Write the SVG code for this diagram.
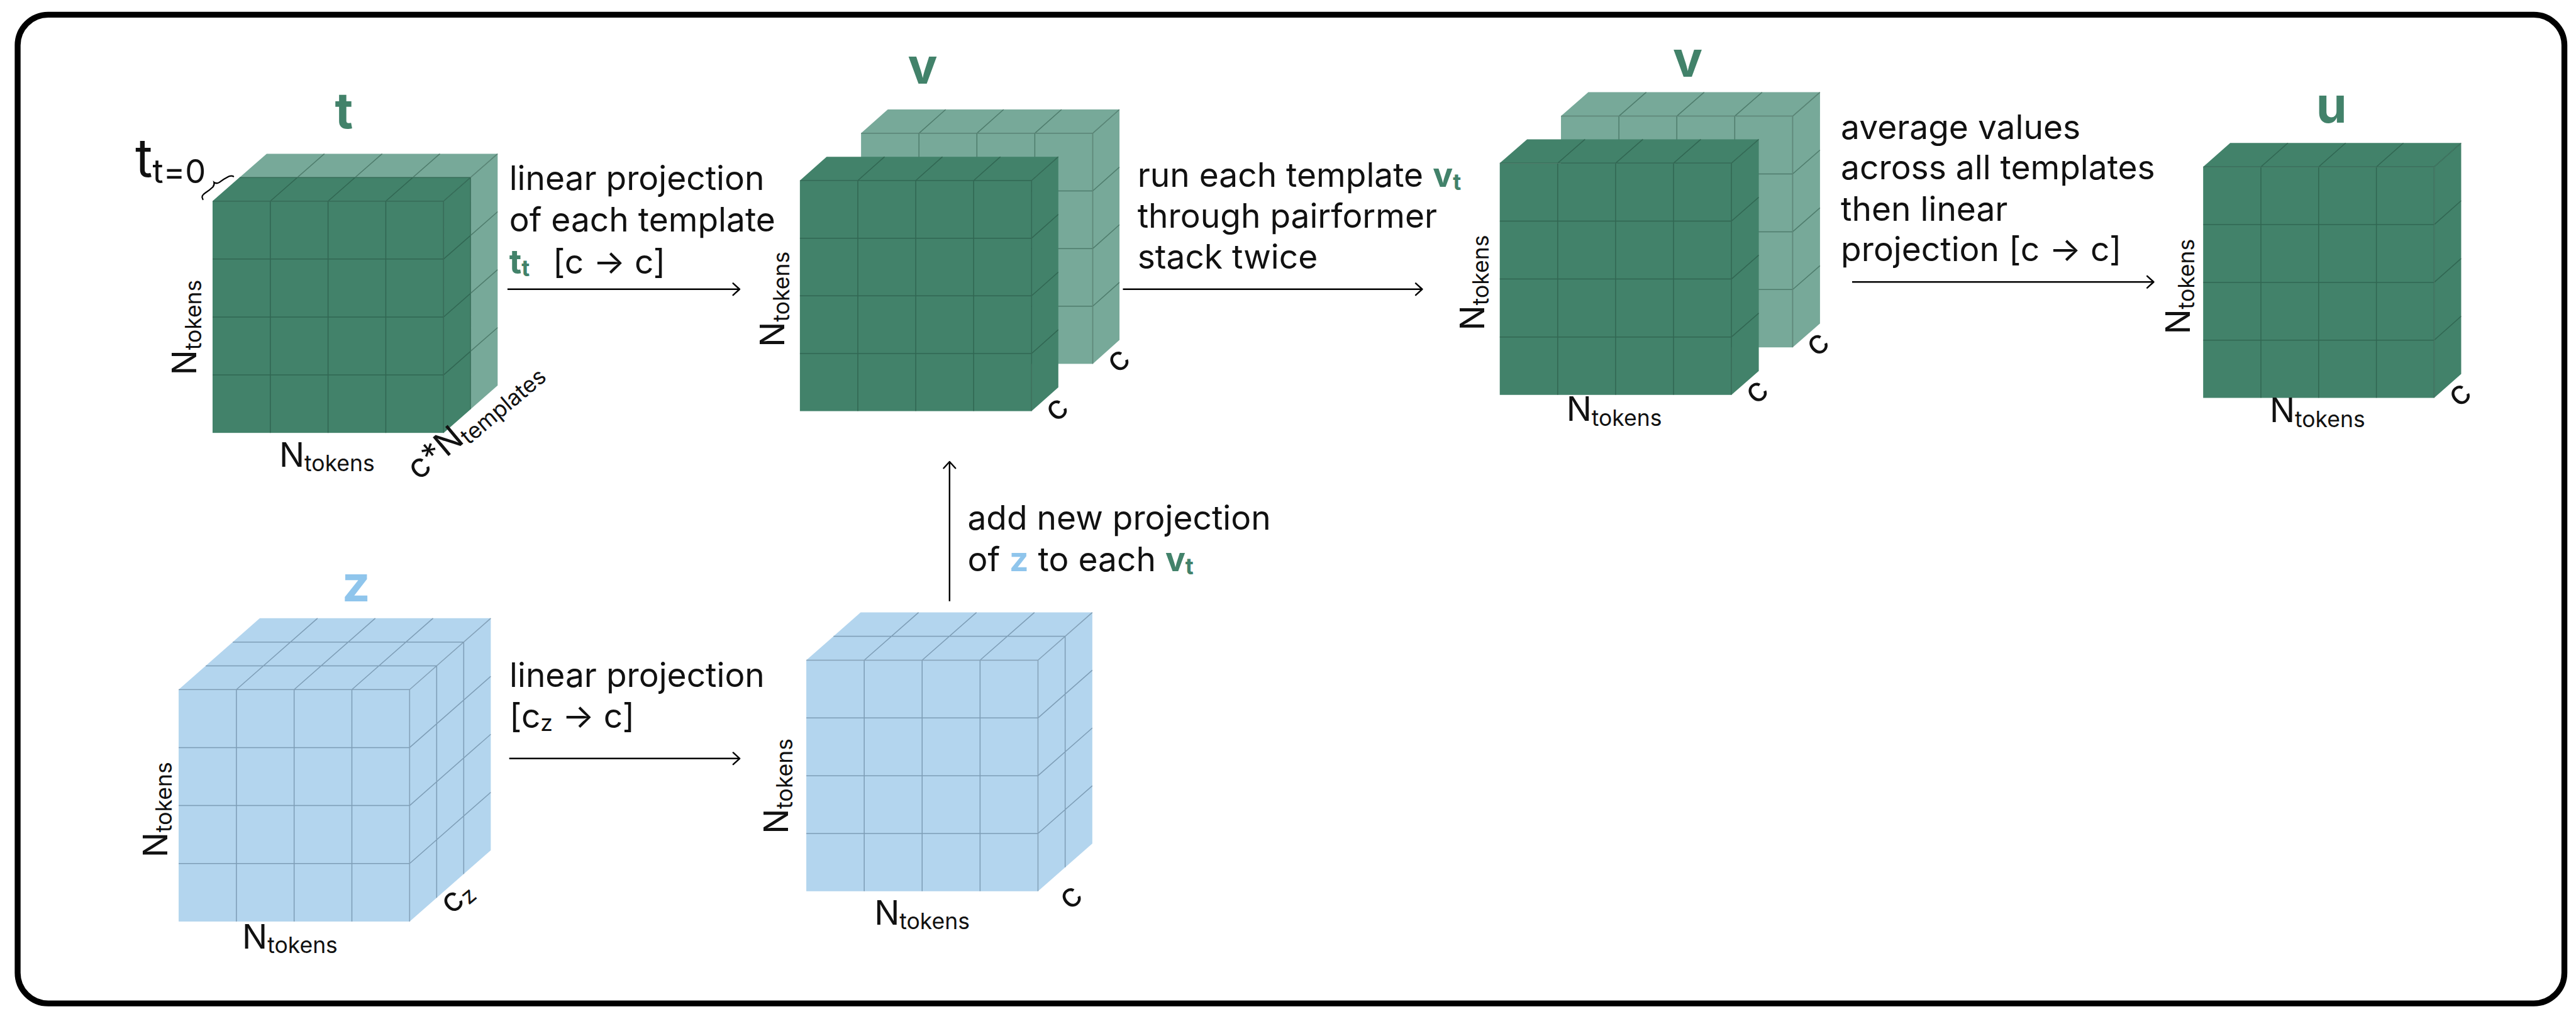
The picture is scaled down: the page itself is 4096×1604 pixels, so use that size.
<svg xmlns="http://www.w3.org/2000/svg" width="4096" height="1604" viewBox="0 0 4096 1604">
  <defs>
    <style>
      text { font-family: Inter, "Liberation Sans", sans-serif; font-size: 57px; fill: #111; }
      .sub { font-size: 38px; }
      .bold { font-weight: 700; }
      .name { font-weight: 700; font-size: 84px; }
      .green { fill: #42826a; }
      .blue { fill: #8fc5ec; }
      .dark { fill: #42826a; }
      .light { fill: #77a999; }
      .sky { fill: #b3d5ee; }
      .gridG { fill: none; stroke: #1d4536; stroke-opacity: 0.45; stroke-width: 1.6; }
      .gridB { fill: none; stroke: #3b5870; stroke-opacity: 0.45; stroke-width: 1.6; }
      .edge { fill: none; stroke: #000; stroke-width: 2.6; }
    </style>
    <marker id="head" markerUnits="userSpaceOnUse" viewBox="-14 -12 16 24" markerWidth="16" markerHeight="24" refX="0" refY="0" orient="auto">
      <path d="M-11,-10 L0,0 L-11,10" fill="none" stroke="#000" stroke-width="2.6" stroke-linecap="round" stroke-linejoin="round"/>
    </marker>
  </defs>

  <g transform="scale(0.935)">
    <!-- outer frame -->
    <rect x="30" y="25" width="4331" height="1681" rx="52" fill="#fff" stroke="#000" stroke-width="10"/>

    <!-- template stack t: one dark slice in front, remaining templates behind -->
    <g id="node-t">
      <polygon class="light" points="361.5,342 754.3,342 846.3,261.4 453.5,261.4"/>
      <polygon class="light" points="754.3,342 846.3,261.4 846.3,655.4 754.3,736"/>
      <rect class="dark" x="361.5" y="342" width="392.8" height="394"/>
      <polygon class="dark" points="361.5,342 754.3,342 800.3,301.7 407.5,301.7"/>
      <polygon class="dark" points="754.3,342 800.3,301.7 800.3,695.7 754.3,736"/>
      <path class="gridG" d="M459.7,342V736M557.9,342V736M656.1,342V736M754.3,342V736
        M361.5,342H754.3M361.5,440.5H754.3M361.5,539H754.3M361.5,637.5H754.3
        M459.7,342l92,-80.6M557.9,342l92,-80.6M656.1,342l92,-80.6M754.3,342l92,-80.6
        M407.5,301.7H800.3M800.3,301.7V695.7
        M754.3,440.5l92,-80.6M754.3,539l92,-80.6M754.3,637.5l92,-80.6"/>
      <text class="name green" x="585" y="218.6" text-anchor="middle">t</text>
      <text x="230" y="300" style="font-size:90px">t<tspan style="font-size:56px" dy="11">t=0</tspan></text>
      <path d="M345,339 q-4,-6 4,-11 q8,-5 13,-10 q3,-4 2,-8 q4,3 9,0 q8,-6 16,-10 q5,-2 8,0" fill="none" stroke="#000" stroke-width="2.4" stroke-linecap="round"/>
      <text transform="translate(334,638) rotate(-90)">N<tspan class="sub" dy="8">tokens</tspan></text>
      <text x="556" y="793.6" text-anchor="middle">N<tspan class="sub" dy="8">tokens</tspan></text>
      <text transform="translate(712,818) rotate(-40)">c*N<tspan class="sub" dy="8">templates</tspan></text>
    </g>

    <!-- v after projection: two stacked template cubes -->
    <g id="node-v1">
      <rect class="light" x="1464.3" y="226.6" width="394" height="392"/>
      <polygon class="light" points="1464.3,226.6 1858.3,226.6 1903.8,186.1 1509.8,186.1"/>
      <polygon class="light" points="1858.3,226.6 1903.8,186.1 1903.8,578.1 1858.3,618.6"/>
      <path class="gridG" d="M1562.8,226.6V618.6M1661.3,226.6V618.6M1759.8,226.6V618.6M1858.3,226.6V618.6
        M1464.3,226.6H1858.3M1464.3,324.6H1858.3M1464.3,422.6H1858.3M1464.3,520.6H1858.3
        M1562.8,226.6l45.5,-40.5M1661.3,226.6l45.5,-40.5M1759.8,226.6l45.5,-40.5M1858.3,226.6l45.5,-40.5
        M1858.3,324.6l45.5,-40.5M1858.3,422.6l45.5,-40.5M1858.3,520.6l45.5,-40.5"/>
      <rect class="dark" x="1360.3" y="307" width="394" height="392"/>
      <polygon class="dark" points="1360.3,307 1754.3,307 1799.8,266.5 1405.8,266.5"/>
      <polygon class="dark" points="1754.3,307 1799.8,266.5 1799.8,658.5 1754.3,699"/>
      <path class="gridG" d="M1458.8,307V699M1557.3,307V699M1655.8,307V699M1754.3,307V699
        M1360.3,307H1754.3M1360.3,405H1754.3M1360.3,503H1754.3M1360.3,601H1754.3
        M1458.8,307l45.5,-40.5M1557.3,307l45.5,-40.5M1655.8,307l45.5,-40.5M1754.3,307l45.5,-40.5
        M1754.3,405l45.5,-40.5M1754.3,503l45.5,-40.5M1754.3,601l45.5,-40.5"/>
      <text class="name green" x="1569" y="142" text-anchor="middle">v</text>
      <text transform="translate(1334,590) rotate(-90)">N<tspan class="sub" dy="8">tokens</tspan></text>
      <text transform="translate(1799,698) rotate(-41)" text-anchor="middle" dy="14">c</text>
      <text transform="translate(1904,615) rotate(-41)" text-anchor="middle" dy="14">c</text>
    </g>

    <!-- v after the pairformer stack -->
    <g id="node-v2">
      <rect class="light" x="2654.6" y="197.4" width="394" height="393.2"/>
      <polygon class="light" points="2654.6,197.4 3048.6,197.4 3095.1,156.8 2701.1,156.8"/>
      <polygon class="light" points="3048.6,197.4 3095.1,156.8 3095.1,550 3048.6,590.6"/>
      <path class="gridG" d="M2753.1,197.4V590.6M2851.6,197.4V590.6M2950.1,197.4V590.6M3048.6,197.4V590.6
        M2654.6,197.4H3048.6M2654.6,295.7H3048.6M2654.6,394H3048.6M2654.6,492.3H3048.6
        M2753.1,197.4l46.5,-40.6M2851.6,197.4l46.5,-40.6M2950.1,197.4l46.5,-40.6M3048.6,197.4l46.5,-40.6
        M3048.6,295.7l46.5,-40.6M3048.6,394l46.5,-40.6M3048.6,492.3l46.5,-40.6"/>
      <rect class="dark" x="2550.5" y="277.4" width="394" height="394"/>
      <polygon class="dark" points="2550.5,277.4 2944.5,277.4 2991,236.8 2597,236.8"/>
      <polygon class="dark" points="2944.5,277.4 2991,236.8 2991,630.8 2944.5,671.4"/>
      <path class="gridG" d="M2649,277.4V671.4M2747.5,277.4V671.4M2846,277.4V671.4M2944.5,277.4V671.4
        M2550.5,277.4H2944.5M2550.5,375.9H2944.5M2550.5,474.4H2944.5M2550.5,572.9H2944.5
        M2649,277.4l46.5,-40.6M2747.5,277.4l46.5,-40.6M2846,277.4l46.5,-40.6M2944.5,277.4l46.5,-40.6
        M2944.5,375.9l46.5,-40.6M2944.5,474.4l46.5,-40.6M2944.5,572.9l46.5,-40.6"/>
      <text class="name green" x="2870" y="131" text-anchor="middle">v</text>
      <text transform="translate(2524,562) rotate(-90)">N<tspan class="sub" dy="8">tokens</tspan></text>
      <text x="2745" y="715.7" text-anchor="middle">N<tspan class="sub" dy="8">tokens</tspan></text>
      <text transform="translate(2989.5,668) rotate(-41)" text-anchor="middle" dy="14">c</text>
      <text transform="translate(3093,587) rotate(-41)" text-anchor="middle" dy="14">c</text>
    </g>

    <!-- averaged output u -->
    <g id="node-u">
      <rect class="dark" x="3746.7" y="283.7" width="392.8" height="392.8"/>
      <polygon class="dark" points="3746.7,283.7 4139.5,283.7 4185.5,243 3792.7,243"/>
      <polygon class="dark" points="4139.5,283.7 4185.5,243 4185.5,635.8 4139.5,676.5"/>
      <path class="gridG" d="M3844.9,283.7V676.5M3943.1,283.7V676.5M4041.3,283.7V676.5M4139.5,283.7V676.5
        M3746.7,283.7H4139.5M3746.7,381.9H4139.5M3746.7,480.1H4139.5M3746.7,578.3H4139.5
        M3844.9,283.7l46,-40.7M3943.1,283.7l46,-40.7M4041.3,283.7l46,-40.7M4139.5,283.7l46,-40.7
        M4139.5,381.9l46,-40.7M4139.5,480.1l46,-40.7M4139.5,578.3l46,-40.7"/>
      <text class="name green" x="3965" y="208.6" text-anchor="middle">u</text>
      <text transform="translate(3724,568.5) rotate(-90)">N<tspan class="sub" dy="8">tokens</tspan></text>
      <text x="3941" y="717.7" text-anchor="middle">N<tspan class="sub" dy="8">tokens</tspan></text>
      <text transform="translate(4185,673) rotate(-41)" text-anchor="middle" dy="14">c</text>
    </g>

    <!-- pair representation z -->
    <g id="node-z">
      <rect class="sky" x="303.8" y="1172.4" width="392.8" height="394.4"/>
      <polygon class="sky" points="303.8,1172.4 696.6,1172.4 834.6,1051.2 441.8,1051.2"/>
      <polygon class="sky" points="696.6,1172.4 834.6,1051.2 834.6,1445.6 696.6,1566.8"/>
      <path class="gridB" d="M402,1172.4V1566.8M500.2,1172.4V1566.8M598.4,1172.4V1566.8M696.6,1172.4V1566.8
        M303.8,1172.4H696.6M303.8,1271H696.6M303.8,1369.6H696.6M303.8,1468.2H696.6
        M402,1172.4l138,-121.2M500.2,1172.4l138,-121.2M598.4,1172.4l138,-121.2M696.6,1172.4l138,-121.2
        M349.8,1132H742.6M395.8,1091.6H788.6
        M696.6,1271l138,-121.2M696.6,1369.6l138,-121.2M696.6,1468.2l138,-121.2
        M742.6,1132V1526.4M788.6,1091.6V1486"/>
      <text class="name blue" x="605.5" y="1022.7" text-anchor="middle">z</text>
      <text transform="translate(284,1458) rotate(-90)">N<tspan class="sub" dy="8">tokens</tspan></text>
      <text x="493" y="1612.5" text-anchor="middle">N<tspan class="sub" dy="8">tokens</tspan></text>
      <text transform="translate(768,1556) rotate(-40)">c<tspan class="sub" dy="6">z</tspan></text>
    </g>

    <!-- projected z -->
    <g id="node-zproj">
      <rect class="sky" x="1371.2" y="1122.5" width="394" height="392.8"/>
      <polygon class="sky" points="1371.2,1122.5 1765.2,1122.5 1857.6,1041.3 1463.6,1041.3"/>
      <polygon class="sky" points="1765.2,1122.5 1857.6,1041.3 1857.6,1434.1 1765.2,1515.3"/>
      <path class="gridB" d="M1469.7,1122.5V1515.3M1568.2,1122.5V1515.3M1666.7,1122.5V1515.3M1765.2,1122.5V1515.3
        M1371.2,1122.5H1765.2M1371.2,1220.7H1765.2M1371.2,1318.9H1765.2M1371.2,1417.1H1765.2
        M1469.7,1122.5l92.4,-81.2M1568.2,1122.5l92.4,-81.2M1666.7,1122.5l92.4,-81.2M1765.2,1122.5l92.4,-81.2
        M1417.4,1081.9H1811.4M1811.4,1081.9V1474.7
        M1765.2,1220.7l92.4,-81.2M1765.2,1318.9l92.4,-81.2M1765.2,1417.1l92.4,-81.2"/>
      <text transform="translate(1340,1418) rotate(-90)">N<tspan class="sub" dy="8">tokens</tspan></text>
      <text x="1568" y="1572" text-anchor="middle">N<tspan class="sub" dy="8">tokens</tspan></text>
      <text transform="translate(1823,1527.5) rotate(-41)" text-anchor="middle" dy="14">c</text>
    </g>

    <!-- connectors -->
    <g id="connectors">
      <path class="edge" d="M863,491.7H1257.7" marker-end="url(#head)"/>
      <path class="edge" d="M1909.6,491.7H2418.6" marker-end="url(#head)"/>
      <path class="edge" d="M3149.7,479.4H3662.5" marker-end="url(#head)"/>
      <path class="edge" d="M866,1289.6H1257.9" marker-end="url(#head)"/>
      <path class="edge" d="M1614.8,1022.2V785" marker-end="url(#head)"/>
    </g>

    <!-- connector labels -->
    <g id="labels">
      <text x="866" y="323.3">linear projection</text>
      <text x="866" y="393.3">of each template</text>
      <text x="866" y="465"><tspan class="bold green">t</tspan><tspan class="sub bold green" dy="5">t</tspan><tspan x="940" y="465">[c → c]</tspan></text>

      <text x="1934.4" y="317.3">run each template <tspan class="bold green">v</tspan><tspan class="sub bold green" dy="6">t</tspan></text>
      <text x="1934.4" y="386.7">through pairformer</text>
      <text x="1934.4" y="456.7">stack twice</text>

      <text x="3130.6" y="236.8">average values</text>
      <text x="3130.6" y="305.2">across all templates</text>
      <text x="3130.6" y="375.7">then linear</text>
      <text x="3130.6" y="444.1">projection [c → c]</text>

      <text x="866.4" y="1167.6">linear projection</text>
      <text x="866.4" y="1237">[c<tspan class="sub" dy="6">z</tspan><tspan dy="-6"> → c]</tspan></text>

      <text x="1645.4" y="900.3">add new projection</text>
      <text x="1645.4" y="970.7">of <tspan class="bold blue">z</tspan> to each <tspan class="bold green">v</tspan><tspan class="sub bold green" dy="6">t</tspan></text>
    </g>
  </g>
</svg>
